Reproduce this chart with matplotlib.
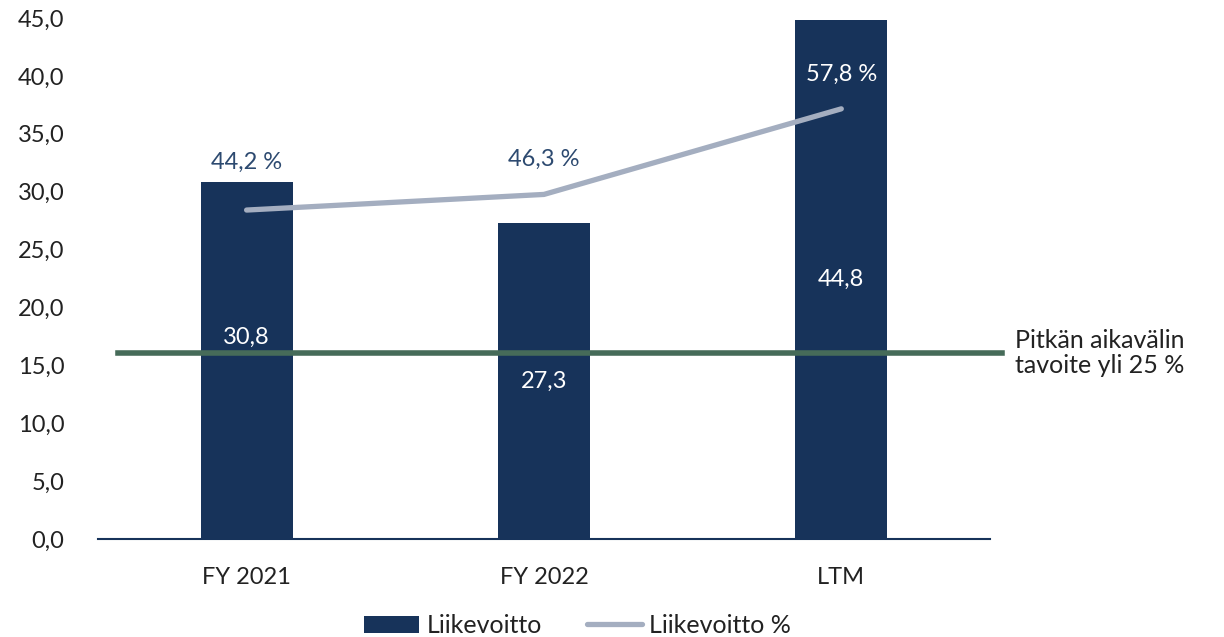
import matplotlib
matplotlib.use("Agg")
import matplotlib.pyplot as plt
from matplotlib.ticker import FuncFormatter

# data
categories = ["FY 2021", "FY 2022", "LTM"]
liikevoitto = [30.8, 27.3, 44.8]
liikevoitto_pct = [44.2, 46.3, 57.8]
target_pct = 25
yticks = [0, 5, 10, 15, 20, 25, 30, 35, 40, 45]

# colours
navy = "#17335a"
grey = "#a4aec0"
green = "#466b59"
text_col = "#222222"

plt.rcParams["font.family"] = ["Lato", "DejaVu Sans"]

def fi(v, dec=1):
    return f"{v:.{dec}f}".replace(".", ",")

fig = plt.figure(figsize=(12.24, 6.37), dpi=100)
ax = fig.add_axes([0.080, 0.1538, 0.7288, 0.8179])
ax2 = ax.twinx()

x = list(range(len(categories)))
bars = ax.bar(x, liikevoitto, width=0.31, color=navy, zorder=2, label="Liikevoitto")
ax.set_xlim(-0.5, 2.5)
ax.set_ylim(0, 45)
ax.set_yticks(yticks)
ax.yaxis.set_major_formatter(FuncFormatter(lambda v, p: fi(v)))
ax.set_xticks(x)
ax.set_xticklabels(categories)
ax.tick_params(axis="both", length=0, labelsize=17, colors=text_col)
ax.tick_params(axis="y", pad=24)
ax.tick_params(axis="x", pad=20)
for s in ["left", "right", "top"]:
    ax.spines[s].set_visible(False)
ax.spines["bottom"].set_color(navy)
ax.spines["bottom"].set_linewidth(1.5)
ax.spines["bottom"].set_zorder(3)

# bar value labels (first one lifted above the target line)
lift = [2.0, 0, 0]
for i, v in enumerate(liikevoitto):
    ax.text(i, v / 2 + lift[i], fi(v), ha="center", va="center",
            color="white", fontsize=17, zorder=5)

# percentage line on hidden secondary axis
ax2.set_ylim(0, 70)
ax2.axis("off")
line, = ax2.plot(x, liikevoitto_pct, color=grey, linewidth=3.8,
                 solid_capstyle="round", zorder=4, label="Liikevoitto %")
ax2.plot([-0.433, 2.542], [target_pct, target_pct], color=green,
         linewidth=4, clip_on=False, zorder=3)
ax2.text(2.585, target_pct, "Pitkän aikavälin\ntavoite yli 25 %", ha="left",
         va="center", fontsize=18, color=text_col, linespacing=1.1)

pct_offsets = [34, 25, 25]
pct_colors = ["#2d4a70", "#2d4a70", "white"]
for i, v in enumerate(liikevoitto_pct):
    ax2.annotate(f"{fi(v)} %", (i, v), xytext=(0, pct_offsets[i]),
                 textcoords="offset points", ha="center", va="center",
                 fontsize=17, color=pct_colors[i], zorder=6)

fig.legend([bars, line], ["Liikevoitto", "Liikevoitto %"], loc="center",
           bbox_to_anchor=(0.472, 0.018), ncol=2, frameon=False, fontsize=18,
           handlelength=2.2, handletextpad=0.3, columnspacing=1.8,
           labelcolor=text_col)

fig.savefig("out.png", dpi=100)
